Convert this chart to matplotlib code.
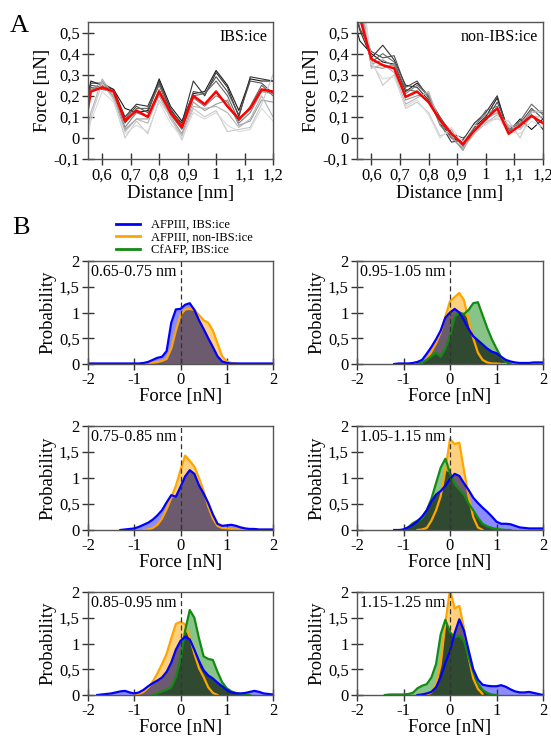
import numpy as np
import matplotlib
matplotlib.use("Agg")
import matplotlib.pyplot as plt
from matplotlib.ticker import FuncFormatter
from matplotlib.lines import Line2D

plt.rcParams["font.family"] = ["Liberation Serif", "DejaVu Serif"]

# ---- panel A: force vs distance -------------------------------------------
distance = [0.52, 0.56, 0.60, 0.64, 0.68, 0.72, 0.76, 0.80, 0.84, 0.88,
            0.92, 0.96, 1.00, 1.04, 1.08, 1.12, 1.16, 1.20, 1.24]

gray_shades = ["#1a1a1a", "#333333", "#4d4d4d", "#666666", "#808080",
               "#999999", "#b3b3b3", "#c8c8c8", "#dadada"]

ibs_runs = [
    [0.00, 0.27, 0.25, 0.23, 0.14, 0.12, 0.13, 0.28, 0.15, 0.08, 0.21, 0.22, 0.32, 0.25, 0.13, 0.28, 0.27, 0.27, 0.26],
    [-0.02, 0.26, 0.26, 0.23, 0.10, 0.16, 0.15, 0.27, 0.13, 0.07, 0.27, 0.20, 0.31, 0.24, 0.10, 0.29, 0.28, 0.27, 0.30],
    [-0.05, 0.25, 0.24, 0.22, 0.09, 0.15, 0.12, 0.26, 0.14, 0.06, 0.22, 0.21, 0.29, 0.22, 0.11, 0.27, 0.26, 0.21, 0.18],
    [-0.06, 0.24, 0.23, 0.22, 0.07, 0.14, 0.14, 0.25, 0.12, 0.05, 0.20, 0.21, 0.27, 0.20, 0.08, 0.15, 0.25, 0.20, 0.22],
    [-0.10, 0.23, 0.25, 0.20, 0.05, 0.12, 0.10, 0.23, 0.11, 0.04, 0.19, 0.15, 0.20, 0.17, 0.07, 0.12, 0.22, 0.21, 0.20],
    [-0.12, 0.22, 0.27, 0.19, 0.04, 0.09, 0.09, 0.20, 0.10, 0.02, 0.17, 0.13, 0.16, 0.18, 0.06, 0.08, 0.18, 0.17, 0.15],
    [-0.15, 0.12, 0.28, 0.20, 0.03, 0.09, 0.07, 0.21, 0.09, 0.01, 0.15, 0.14, 0.15, 0.12, 0.05, 0.09, 0.20, 0.10, 0.05],
    [-0.15, 0.10, 0.26, 0.18, 0.00, 0.08, 0.02, 0.18, 0.10, -0.01, 0.14, 0.10, 0.13, 0.03, 0.04, 0.05, 0.16, 0.30, 0.32],
    [-0.20, 0.08, 0.22, 0.17, 0.02, 0.06, 0.03, 0.17, 0.07, 0.00, 0.12, 0.09, 0.12, 0.06, 0.03, 0.04, 0.14, 0.08, 0.02],
]
ibs_mean = [-0.10, 0.22, 0.24, 0.22, 0.08, 0.13, 0.10, 0.22, 0.12, 0.05,
            0.20, 0.16, 0.22, 0.15, 0.09, 0.14, 0.23, 0.22, 0.20]

nonibs_runs = [
    [0.65, 0.46, 0.40, 0.36, 0.35, 0.22, 0.26, 0.20, 0.08, 0.00, -0.02, 0.05, 0.10, 0.19, 0.03, 0.09, 0.04, 0.09, 0.10],
    [0.70, 0.51, 0.38, 0.44, 0.37, 0.25, 0.24, 0.18, 0.07, -0.02, -0.01, 0.07, 0.12, 0.20, 0.02, 0.06, 0.11, 0.04, 0.03],
    [0.75, 0.52, 0.41, 0.38, 0.39, 0.24, 0.27, 0.19, 0.10, 0.02, 0.00, 0.03, 0.08, 0.17, 0.04, 0.07, 0.14, 0.09, 0.07],
    [0.80, 0.58, 0.36, 0.40, 0.36, 0.23, 0.22, 0.17, 0.09, 0.03, -0.04, 0.05, 0.13, 0.15, 0.03, 0.08, 0.16, 0.11, 0.08],
    [0.85, 0.62, 0.35, 0.37, 0.34, 0.21, 0.25, 0.20, 0.06, 0.00, -0.05, 0.06, 0.11, 0.14, 0.04, 0.05, 0.13, 0.12, 0.10],
    [0.90, 0.66, 0.34, 0.33, 0.35, 0.18, 0.20, 0.21, 0.08, 0.01, -0.06, 0.04, 0.09, 0.12, 0.05, 0.07, 0.12, 0.13, 0.12],
    [0.95, 0.70, 0.33, 0.35, 0.31, 0.16, 0.19, 0.22, 0.07, 0.04, -0.05, 0.02, 0.07, 0.11, 0.06, 0.04, 0.10, 0.10, 0.08],
    [1.00, 0.75, 0.37, 0.25, 0.30, 0.14, 0.17, 0.12, 0.01, 0.03, -0.03, 0.03, 0.08, 0.09, 0.08, 0.00, 0.12, 0.13, 0.11],
    [1.00, 0.80, 0.35, 0.28, 0.29, 0.15, 0.18, 0.11, 0.00, 0.05, -0.02, 0.06, 0.06, 0.10, 0.03, 0.02, 0.08, 0.05, 0.04],
]
nonibs_mean = [0.75, 0.57, 0.375, 0.345, 0.33, 0.195, 0.22, 0.17, 0.085, 0.02,
               -0.03, 0.035, 0.09, 0.14, 0.02, 0.06, 0.105, 0.07, 0.05]

# ---- panel B: force distributions ------------------------------------------
# each curve: (first force value on the 0.1 nN grid, probabilities)
windows = ["0.65-0.75 nm", "0.95-1.05 nm", "0.75-0.85 nm",
           "1.05-1.15 nm", "0.85-0.95 nm", "1.15-1.25 nm"]

blue_curves = [
    (-2.0, [0.01] * 12 + [0.02, 0.04, 0.08, 0.12, 0.14, 0.25, 0.80, 1.06, 1.07, 1.15, 1.18, 1.05,
                          0.85, 0.68, 0.50, 0.33, 0.15, 0.05, 0.02] + [0.01] * 10),
    (-1.2, [0.00, 0.01, 0.01, 0.01, 0.02, 0.04, 0.08, 0.20, 0.33, 0.48, 0.65, 0.90, 1.00, 1.07,
            1.00, 0.85, 0.68, 0.54, 0.46, 0.38, 0.30, 0.24, 0.21, 0.14, 0.08, 0.05, 0.03, 0.02,
            0.02, 0.02, 0.03, 0.03, 0.03]),
    (-1.3, [0.00, 0.01, 0.02, 0.03, 0.06, 0.10, 0.14, 0.20, 0.28, 0.38, 0.53, 0.67, 0.64, 0.83,
            1.03, 1.15, 1.08, 0.86, 0.70, 0.52, 0.30, 0.12, 0.08, 0.09, 0.10, 0.08, 0.05, 0.03,
            0.02, 0.02, 0.01, 0.01, 0.01, 0.01]),
    (-1.2, [0.00, 0.00, 0.01, 0.05, 0.10, 0.17, 0.26, 0.38, 0.55, 0.68, 0.75, 0.85, 0.98, 1.08,
            1.04, 0.90, 0.77, 0.62, 0.52, 0.43, 0.35, 0.26, 0.16, 0.12, 0.12, 0.11, 0.08, 0.05,
            0.04, 0.03, 0.03, 0.03, 0.03]),
    (-1.8, [0.00, 0.01, 0.02, 0.03, 0.05, 0.07, 0.08, 0.05, 0.03, 0.05, 0.10, 0.17, 0.23, 0.28,
            0.34, 0.45, 0.63, 0.88, 1.05, 1.13, 1.08, 0.88, 0.66, 0.48, 0.38, 0.32, 0.24, 0.17,
            0.10, 0.05, 0.03, 0.03, 0.04, 0.06, 0.08, 0.06, 0.03, 0.02, 0.01]),
    (-0.7, [0.00, 0.01, 0.03, 0.06, 0.15, 0.35, 0.62, 0.85, 1.20, 1.47, 1.25, 0.87, 0.50, 0.30,
            0.20, 0.18, 0.17, 0.17, 0.19, 0.16, 0.11, 0.07, 0.05, 0.05, 0.06, 0.04, 0.02, 0.00]),
]
orange_curves = [
    (-0.8, [0.00, 0.01, 0.02, 0.04, 0.06, 0.10, 0.30, 0.65, 0.95, 1.06, 1.07, 1.05, 0.95, 0.85,
            0.80, 0.65, 0.40, 0.15, 0.05, 0.02, 0.01]),
    (-0.8, [0.00, 0.01, 0.03, 0.10, 0.24, 0.40, 0.62, 0.92, 1.22, 1.30, 1.38, 1.24, 0.85, 0.50,
            0.22, 0.08, 0.03, 0.01, 0.01, 0.00, 0.00]),
    (-0.8, [0.00, 0.01, 0.04, 0.10, 0.22, 0.40, 0.62, 0.85, 1.15, 1.43, 1.33, 1.22, 1.00, 0.75,
            0.45, 0.22, 0.08, 0.04, 0.03, 0.02, 0.01, 0.01, 0.00]),
    (-0.7, [0.00, 0.01, 0.04, 0.18, 0.38, 0.65, 1.15, 1.75, 1.65, 1.68, 1.15, 0.65, 0.25, 0.05,
            0.00]),
    (-1.0, [0.00, 0.02, 0.06, 0.14, 0.26, 0.42, 0.60, 0.80, 1.10, 1.38, 1.42, 1.37, 1.12, 0.80,
            0.52, 0.35, 0.15, 0.04, 0.00]),
    (-0.5, [0.00, 0.05, 0.20, 0.60, 1.40, 2.05, 1.68, 1.73, 1.30, 0.74, 0.32, 0.12, 0.02]),
]
green_curves = [
    None,
    (-0.7, [0.00, 0.03, 0.08, 0.15, 0.22, 0.14, 0.30, 0.55, 0.92, 1.00, 0.97, 1.05, 1.18, 1.20,
            0.95, 0.70, 0.48, 0.30, 0.13, 0.05, 0.01]),
    None,
    (-1.0, [0.01, 0.05, 0.13, 0.18, 0.22, 0.38, 0.60, 0.90, 1.20, 1.37, 1.10, 0.88, 0.78, 0.68,
            0.51, 0.38, 0.24, 0.12, 0.07, 0.04, 0.02, 0.01, 0.00, 0.00]),
    (-0.6, [0.00, 0.03, 0.07, 0.10, 0.15, 0.35, 0.70, 1.25, 1.65, 1.50, 1.10, 0.75, 0.70, 0.68,
            0.45, 0.25, 0.13, 0.07, 0.04, 0.02, 0.01, 0.00]),
    (-1.4, [0.00, 0.01, 0.01, 0.01, 0.01, 0.02, 0.04, 0.13, 0.18, 0.21, 0.34, 0.60, 1.18, 1.46,
            1.22, 1.12, 1.15, 1.05, 0.74, 0.45, 0.22, 0.10, 0.04, 0.01, 0.00]),
]

force_grid = np.round(np.linspace(-2.0, 2.0, 41), 1)


def on_grid(curve):
    y = np.full(force_grid.size, np.nan)
    if curve is None:
        return y
    start, vals = curve
    i0 = int(round((start + 2.0) * 10))
    y[i0:i0 + len(vals)] = vals
    return y


def comma(v, pos=None):
    return f"{v:g}".replace(".", ",")


BLUE, ORANGE, GREEN = "#0000ff", "#ffa500", "#138a13"
SPINE = "#555555"


def style(ax):
    for s in ax.spines.values():
        s.set_color(SPINE)
        s.set_linewidth(1.0)
    ax.tick_params(direction="inout", length=8, width=1.0, color="#333333",
                   labelsize=12, top=False, right=False, pad=2)
    ax.xaxis.set_major_formatter(FuncFormatter(comma))
    ax.yaxis.set_major_formatter(FuncFormatter(comma))


fig = plt.figure(figsize=(5.51, 7.40), dpi=100)
W, H = 551, 740


def add_axes(left, top, right, bottom):
    return fig.add_axes([left / W, 1 - bottom / H, (right - left) / W, (bottom - top) / H])


# panel A
for (l, r), runs, mean, tag in [((88, 273), ibs_runs, ibs_mean, "IBS:ice"),
                                ((357, 543), nonibs_runs, nonibs_mean, "non-IBS:ice")]:
    ax = add_axes(l, 22, r, 159)
    for run, shade in zip(runs, gray_shades):
        ax.plot(distance, run, color=shade, lw=0.8)
    ax.plot(distance, mean, color="#ff0000", lw=1.8)
    ax.set_xlim(0.55, 1.2)
    ax.set_ylim(-0.1, 0.55)
    ax.set_xticks([0.6, 0.7, 0.8, 0.9, 1.0, 1.1, 1.2])
    ax.set_yticks([-0.1, 0, 0.1, 0.2, 0.3, 0.4, 0.5])
    style(ax)
    ax.set_xlabel("Distance [nm]", fontsize=13.5, labelpad=1)
    ax.set_ylabel("Force [nN]", fontsize=13.5, labelpad=2)
    ax.text(0.97, 0.95, tag, transform=ax.transAxes, ha="right", va="top", fontsize=11.5)

# panel B
rows = [(261, 364), (426, 530), (592, 695)]
cols = [(88, 273), (357, 543)]
for k, label in enumerate(windows):
    top, bot = rows[k // 2]
    l, r = cols[k % 2]
    ax = add_axes(l, top, r, bot)
    b = on_grid(blue_curves[k])
    o = on_grid(orange_curves[k])
    g = on_grid(green_curves[k])
    b0, o0, g0 = (np.nan_to_num(a) for a in (b, o, g))

    ax.fill_between(force_grid, 0, o0, color=ORANGE, alpha=0.5, lw=0)
    ax.fill_between(force_grid, 0, b0, color=BLUE, alpha=0.45, lw=0)
    if green_curves[k] is not None:
        ax.fill_between(force_grid, 0, g0, color=GREEN, alpha=0.5, lw=0)
    ax.fill_between(force_grid, 0, np.minimum(b0, o0), color="#6c5a6e", lw=0)
    if green_curves[k] is not None:
        ax.fill_between(force_grid, 0, np.minimum(g0, np.maximum(b0, o0)),
                        color="#2f4a30", lw=0)

    ax.plot(force_grid, o, color=ORANGE, lw=1.6)
    if green_curves[k] is not None:
        ax.plot(force_grid, g, color=GREEN, lw=1.6)
    ax.plot(force_grid, b, color=BLUE, lw=1.6)
    ax.axvline(0, color="#333333", lw=0.9, ls=(0, (4, 2.5)))

    ax.set_xlim(-2, 2)
    ax.set_ylim(0, 2)
    ax.set_xticks([-2, -1, 0, 1, 2])
    ax.set_yticks([0, 0.5, 1, 1.5, 2])
    style(ax)
    ax.set_xlabel("Force [nN]", fontsize=13.5, labelpad=0)
    ax.set_ylabel("Probability", fontsize=13.5, labelpad=2)
    ax.text(0.015, 0.97, label, transform=ax.transAxes, ha="left", va="top",
            fontsize=11.5, bbox=dict(facecolor="white", edgecolor="none", pad=0.5))

handles = [Line2D([], [], color=BLUE, lw=2),
           Line2D([], [], color=ORANGE, lw=2),
           Line2D([], [], color=GREEN, lw=2)]
fig.legend(handles, ["AFPIII, IBS:ice", "AFPIII, non-IBS:ice", "CfAFP, IBS:ice"],
           loc="upper left", bbox_to_anchor=(116 / W, 1 - 219 / H), frameon=False,
           fontsize=9, borderpad=0, borderaxespad=0, handlelength=1.9,
           handletextpad=0.9, labelspacing=0.05)

fig.text(10 / W, 1 - 26 / H, "A", fontsize=19, va="center", ha="left")
fig.text(12 / W, 1 - 228 / H, "B", fontsize=19, va="center", ha="left")

fig.savefig("out.png", dpi=100)
